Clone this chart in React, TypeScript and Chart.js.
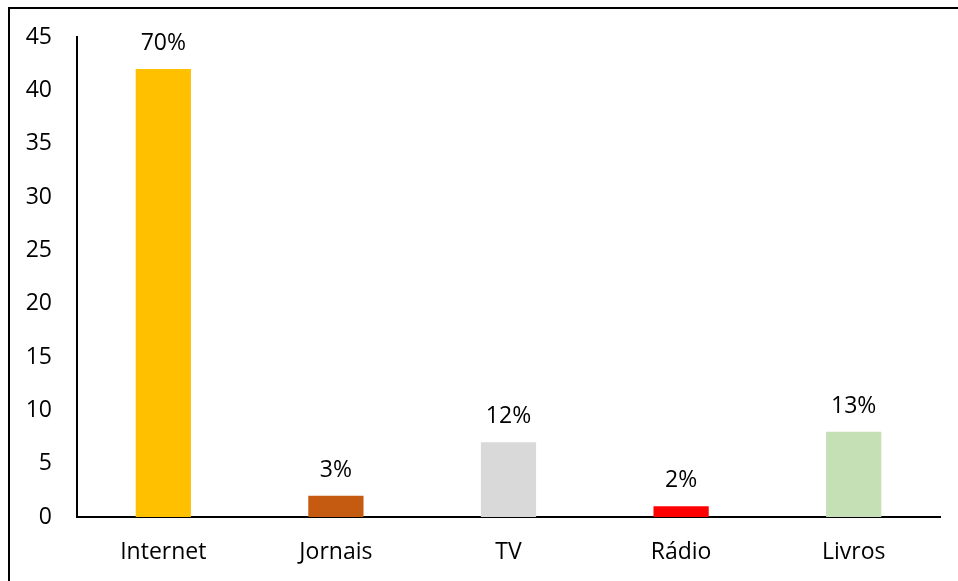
import React, { useEffect, useRef } from "react";
import { Chart, registerables } from "chart.js";

Chart.register(...registerables);

const categories = ["Internet", "Jornais", "TV", "Rádio", "Livros"];
const values = [42, 2, 7, 1, 8];
const pctLabels = ["70%", "3%", "12%", "2%", "13%"];
const barColors = ["#FFC000", "#C55A11", "#D9D9D9", "#FF0000", "#C5E0B4"];
const yMax = 45;
const yStep = 5;

const FONT = "'Open Sans', 'Noto Sans', sans-serif";

const labelPlugin = {
  id: "pctLabels",
  afterDatasetsDraw(chart: any) {
    const ctx = chart.ctx;
    const meta = chart.getDatasetMeta(0);
    ctx.save();
    ctx.font = `23px ${FONT}`;
    ctx.fillStyle = "#000";
    ctx.textAlign = "center";
    ctx.textBaseline = "alphabetic";
    meta.data.forEach((bar: any, i: number) => {
      ctx.fillText(pctLabels[i], bar.x, bar.y - 19);
    });
    ctx.restore();
  },
};

export default function App() {
  const ref = useRef<HTMLCanvasElement | null>(null);
  useEffect(() => {
    if (!ref.current) return;
    const chart = new Chart(ref.current, {
      type: "bar",
      data: {
        labels: categories,
        datasets: [
          {
            data: values,
            backgroundColor: barColors,
            borderWidth: 0,
            categoryPercentage: 1,
            barPercentage: 0.32,
          },
        ],
      },
      options: {
        animation: false,
        responsive: true,
        maintainAspectRatio: false,
        layout: { padding: { top: 28, right: 18, left: 0, bottom: 0 } },
        plugins: { legend: { display: false }, tooltip: { enabled: false } },
        scales: {
          x: {
            grid: { display: false, drawTicks: false },
            border: { display: true, color: "#000", width: 2 },
            ticks: { color: "#000", font: { family: FONT, size: 23 }, padding: 22 },
            afterFit: (s: any) => {
              s.height = 64;
              s.paddingLeft = 0;
              s.paddingRight = 0;
            },
          },
          y: {
            min: 0,
            max: yMax,
            grid: { display: false, drawTicks: false },
            border: { display: true, color: "#000", width: 2 },
            ticks: {
              stepSize: yStep,
              color: "#000",
              font: { family: FONT, size: 23 },
              padding: 25,
            },
            afterFit: (s: any) => {
              s.width = 67;
              s.paddingTop = 0;
              s.paddingBottom = 0;
            },
          },
        },
      },
      plugins: [labelPlugin],
    });
    return () => chart.destroy();
  }, []);
  return (
    <div
      style={{
        position: "fixed",
        left: 8,
        top: 7,
        width: 950,
        height: 574,
        borderTop: "2px solid #000",
        borderLeft: "2px solid #000",
        boxSizing: "border-box",
        overflow: "hidden",
      }}
    >
      <canvas ref={ref} style={{ display: "block" }} />
    </div>
  );
}
